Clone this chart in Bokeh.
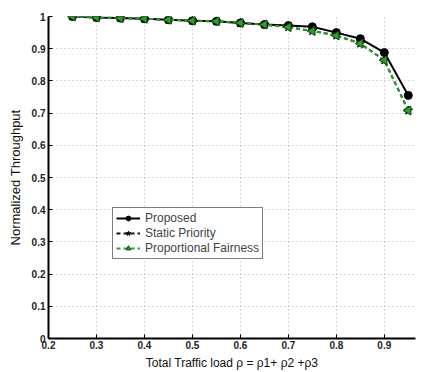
import numpy as np
from bokeh.plotting import figure
from bokeh.models import FixedTicker, Legend, LegendItem, Range1d
from bokeh.embed import file_html
from bokeh.resources import INLINE

load = [0.25, 0.30, 0.35, 0.40, 0.45, 0.50, 0.55, 0.60, 0.65, 0.70, 0.75, 0.80, 0.85, 0.90, 0.95]
proposed = [1.000, 0.997, 0.995, 0.993, 0.990, 0.987, 0.985, 0.980, 0.975, 0.972, 0.968, 0.950, 0.931, 0.888, 0.755]
static_priority = [1.000, 0.997, 0.995, 0.993, 0.990, 0.987, 0.985, 0.980, 0.975, 0.967, 0.955, 0.941, 0.916, 0.864, 0.708]
prop_fairness = [1.000, 0.997, 0.995, 0.993, 0.990, 0.987, 0.985, 0.980, 0.975, 0.967, 0.955, 0.941, 0.916, 0.864, 0.708]

x_ticks = [0.2, 0.3, 0.4, 0.5, 0.6, 0.7, 0.8, 0.9]
x_tick_labels = ["0.2", "0.3", "0.4", "0.5", "0.6", "0.7", "0.8", "0.9"]
y_ticks = [0.0, 0.1, 0.2, 0.3, 0.4, 0.5, 0.6, 0.7, 0.8, 0.9, 1.0]
y_tick_labels = ["0", "0.1", "0.2", "0.3", "0.4", "0.5", "0.6", "0.7", "0.8", "0.9", "1"]

FONT = "Liberation Sans"
GREEN = "#2e9e2e"

p = figure(width=427, height=372, output_backend="svg", toolbar_location=None,
           x_range=Range1d(0.2, 0.965), y_range=Range1d(0, 1),
           min_border_left=48, min_border_right=12, min_border_top=16, min_border_bottom=34)
p.outline_line_color = None
p.background_fill_color = "white"

for ax in (p.xaxis[0], p.yaxis[0]):
    ax.axis_line_color = "black"
    ax.axis_line_width = 2
    ax.major_tick_in = 4
    ax.major_tick_out = 0
    ax.minor_tick_line_color = None
    ax.major_label_text_font = FONT
    ax.major_label_text_font_style = "bold"
    ax.major_label_text_font_size = "10px"
    ax.major_label_text_color = "#222222"
    ax.axis_label_text_font = FONT
    ax.axis_label_text_font_style = "normal"
    ax.axis_label_text_color = "#111111"

p.xaxis.axis_label_text_font_size = "12px"
p.yaxis.axis_label_text_font_size = "13px"

p.xaxis.ticker = FixedTicker(ticks=x_ticks)
p.xaxis.major_label_overrides = {t: l for t, l in zip(x_ticks, x_tick_labels)}
p.yaxis.ticker = FixedTicker(ticks=y_ticks)
p.yaxis.major_label_overrides = {t: l for t, l in zip(y_ticks, y_tick_labels)}
p.xaxis.axis_label = "Total Traffic load ρ = ρ1+ ρ2 +ρ3"
p.yaxis.axis_label = "Normalized Throughput"
p.xaxis.axis_label_standoff = 4
p.yaxis.axis_label_standoff = 6
p.xaxis.major_label_standoff = 2
p.yaxis.major_label_standoff = 3

for g in (p.xgrid[0], p.ygrid[0]):
    g.grid_line_color = "#777777"
    g.grid_line_dash = "1 3"
    g.grid_line_width = 1
    g.grid_line_alpha = 0.55

l1 = p.line(load, proposed, line_color="black", line_width=2)
s1 = p.scatter(load, proposed, marker="circle", size=8, fill_color="black", line_color="black")
l2 = p.line(load, static_priority, line_color="#111111", line_width=2, line_dash="4 3")
s2 = p.scatter(load, static_priority, marker="star", size=9, fill_color="black", line_color="black")
l3 = p.line(load, prop_fairness, line_color=GREEN, line_width=2, line_dash="4 3")
s3 = p.scatter(load, prop_fairness, marker="triangle", angle=np.pi / 2, size=9,
               fill_color=GREEN, line_color="#114411", line_width=1)

legend = Legend(items=[
    LegendItem(label="Proposed", renderers=[l1, s1]),
    LegendItem(label="Static Priority", renderers=[l2, s2]),
    LegendItem(label="Proportional Fairness", renderers=[l3, s3]),
], location=(64, 79))
legend.label_text_font = FONT
legend.label_text_font_size = "12px"
legend.label_height = 12
legend.glyph_height = 12
legend.glyph_width = 24
legend.spacing = 1
legend.padding = 3
legend.margin = 0
legend.label_standoff = 5
legend.border_line_color = "black"
legend.border_line_width = 1
legend.background_fill_alpha = 1
p.add_layout(legend, "center")

open("out.html", "w").write(file_html(p, INLINE))
